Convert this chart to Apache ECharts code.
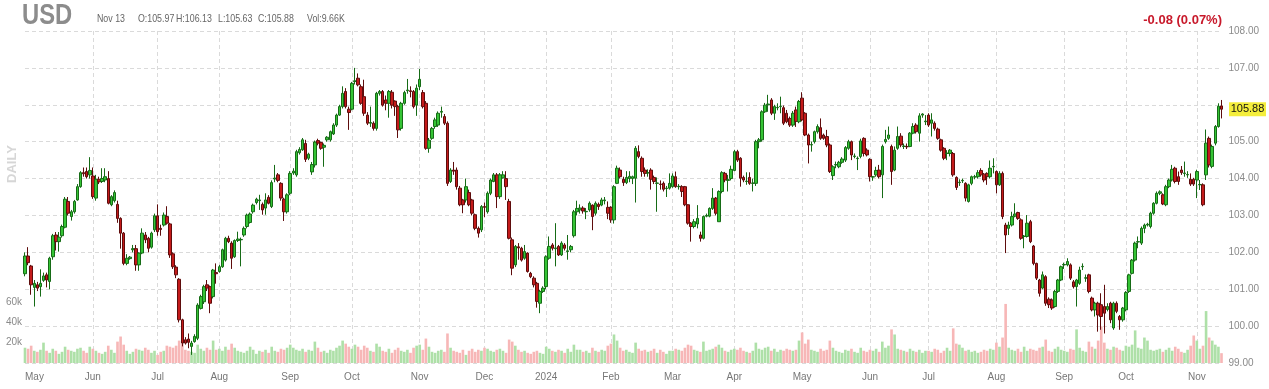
<!DOCTYPE html>
<html><head><meta charset="utf-8">
<script src="https://cdn.jsdelivr.net/npm/echarts@6/dist/echarts.min.js"></script>
<style>html,body{margin:0;padding:0;background:#fff}#c{width:1269px;height:389px}</style>
</head><body><div id="c"></div>
<script>
const symbolName = 'USD';
const periodLabel = 'DAILY';
const changeText = '-0.08 (0.07%)';
const startDate = '2023-05-01';
const endDate = '2024-11-13';
const holidays = ['2023-05-29','2023-06-19','2023-07-04','2023-09-04','2023-11-23','2023-12-25','2024-01-01','2024-01-15','2024-02-19','2024-03-29','2024-05-27','2024-06-19','2024-07-04','2024-09-02'];
const monthNames = ['Jan','Feb','Mar','Apr','May','Jun','Jul','Aug','Sep','Oct','Nov','Dec'];
const priceMin = 99, priceMax = 108, priceStep = 1;
const volumeTicks = [20, 40, 60];

const opens = [
101.42,101.90,101.63,101.05,101.12,101.07,101.24,101.39,101.21,101.88,102.47,102.29,102.45,102.68,103.38,102.97,103.10,103.42,103.78,104.16,104.19,104.10,104.07,103.47,103.98,103.92,103.96,104.00,103.29,103.40,103.30,102.92,102.52,101.70,101.83,102.07,102.10,101.66,101.98,
102.47,102.38,102.14,102.61,102.99,102.65,102.74,102.97,102.77,101.96,101.60,101.27,100.17,99.63,99.65,99.45,99.58,99.67,100.48,100.66,101.12,101.07,100.80,101.45,101.48,101.61,101.79,102.38,102.25,101.88,102.32,102.34,102.47,102.70,102.81,103.10,103.35,103.40,103.30,
103.20,103.49,103.24,103.99,104.10,103.87,103.44,103.10,103.60,104.15,104.10,104.70,104.78,104.95,104.55,104.18,104.37,105.03,104.98,104.85,105.05,105.05,105.21,105.45,105.72,105.95,106.36,105.88,105.88,106.63,106.72,106.49,106.22,105.72,105.50,105.50,105.36,106.31,106.36,
106.13,106.04,106.34,106.10,105.95,105.36,106.04,106.38,106.38,106.36,105.99,106.49,106.33,106.04,104.82,105.09,105.41,105.45,105.80,105.68,105.50,103.92,104.23,104.23,103.74,103.42,103.42,103.62,103.42,103.02,102.65,102.61,103.24,103.10,103.60,103.92,104.10,103.51,104.02,
104.00,103.38,102.34,101.66,102.15,102.11,101.84,101.98,101.43,101.30,101.16,100.62,100.94,101.07,101.84,102.20,102.10,102.16,101.93,102.20,102.02,102.07,102.45,103.10,103.15,103.20,103.10,103.15,103.28,103.06,103.30,103.28,103.40,103.22,103.22,102.88,103.87,104.23,103.98,
103.89,104.00,104.00,104.01,104.73,104.55,104.23,104.15,104.23,104.03,103.87,103.85,103.87,103.73,103.74,103.78,104.05,103.78,103.78,103.78,103.29,102.79,102.70,102.77,102.47,102.38,102.98,102.98,103.19,103.47,102.83,103.65,104.14,103.95,104.00,104.22,104.73,104.55,104.03,
103.92,104.03,103.87,103.87,105.00,105.05,105.81,106.00,106.13,105.77,105.92,105.95,105.92,105.77,105.63,105.45,105.86,105.54,106.18,105.77,105.18,104.91,105.00,105.27,105.38,105.18,105.14,104.91,104.08,104.37,104.32,104.44,104.50,104.82,105.00,104.60,104.54,104.60,105.09,
104.77,104.52,104.04,104.10,104.23,104.10,105.00,105.09,104.87,104.23,104.82,105.15,104.87,104.87,104.87,105.23,105.45,105.23,105.72,105.54,105.72,105.50,105.50,105.34,105.05,104.82,104.68,104.68,104.68,104.03,103.89,103.94,103.87,103.38,103.87,104.04,104.05,104.22,104.12,
104.14,104.05,104.32,104.19,103.83,104.14,102.74,102.65,102.74,102.98,103.08,102.88,102.43,102.43,102.83,102.17,101.70,101.25,101.03,101.34,100.73,100.71,100.53,100.94,101.25,101.66,101.66,101.66,101.20,101.07,101.16,101.61,101.30,101.39,100.76,100.44,100.62,
100.58,100.53,100.45,100.62,99.95,100.62,100.26,100.17,100.44,100.94,101.43,101.79,102.28,102.25,102.65,102.74,102.70,103.06,103.33,103.60,103.56,103.29,103.78,103.96,104.28,104.05,104.23,104.14,104.10,103.98,103.98,103.96,103.83,103.83,104.10,105.09,104.33,104.96,105.41,105.97];

const closes = [
101.90,101.72,101.12,101.16,101.03,101.16,101.36,101.25,101.84,102.45,102.29,102.41,102.70,103.44,103.06,103.10,103.38,103.78,104.16,104.13,104.05,104.22,103.51,103.98,103.91,104.00,104.05,103.33,103.51,103.62,102.92,102.52,101.70,101.84,101.87,102.10,101.66,101.98,102.52,
102.34,102.11,102.52,102.99,102.56,102.62,103.01,102.79,101.93,101.61,101.39,100.17,99.54,99.54,99.56,99.54,99.72,100.57,100.80,101.07,101.03,100.62,101.52,101.42,101.61,102.07,102.38,102.29,101.84,102.32,102.36,102.35,102.65,103.01,103.04,103.28,103.44,103.42,103.15,
103.42,103.33,103.89,104.01,103.95,103.47,103.10,103.56,104.14,104.20,104.73,104.79,105.05,104.52,104.66,104.38,104.99,104.96,104.82,104.90,105.12,105.27,105.45,105.72,105.95,106.31,105.95,105.79,106.58,106.65,106.54,106.04,105.77,105.50,105.52,105.36,106.31,106.36,105.99,
106.04,106.36,105.99,105.95,105.32,106.04,106.33,106.40,106.36,105.95,106.45,106.69,105.95,104.82,105.04,105.36,105.59,105.77,105.82,105.50,103.87,104.23,104.20,103.78,103.29,103.29,103.78,103.29,103.06,102.65,102.52,103.24,103.22,103.60,103.96,104.10,103.51,104.10,104.10,
103.78,102.38,101.57,102.16,102.12,101.79,102.02,101.48,101.34,101.12,100.67,100.94,101.03,101.88,102.16,102.11,102.12,101.93,102.25,102.11,102.04,102.16,103.10,103.19,103.20,103.12,103.11,103.33,102.97,103.33,103.24,103.42,103.42,103.06,102.88,103.78,104.28,104.05,103.89,
104.03,104.06,104.05,104.82,104.60,104.19,104.14,104.16,103.98,103.92,103.88,103.84,103.71,103.74,103.87,104.07,103.78,103.79,103.65,103.29,102.79,102.70,102.83,102.92,102.38,102.97,103.00,103.19,103.47,103.06,103.65,104.16,103.96,103.97,104.25,104.73,104.50,104.01,103.96,
103.93,103.87,103.88,105.00,105.05,105.81,105.99,106.02,105.77,105.95,105.93,105.96,105.50,105.54,105.45,105.77,105.55,106.09,105.59,105.18,104.91,104.92,105.27,105.41,105.09,105.09,104.91,104.19,104.32,104.38,104.44,104.53,104.84,105.00,104.64,104.61,104.55,105.02,104.68,
104.64,104.05,104.05,104.22,104.05,104.87,105.06,105.18,104.19,104.77,105.14,104.91,104.88,104.86,105.23,105.41,105.27,105.70,105.75,105.56,105.45,105.59,105.36,105.09,104.77,104.55,104.69,104.77,104.10,103.76,103.90,103.95,103.47,103.83,104.05,104.05,104.16,104.10,103.96,
104.05,104.28,104.33,103.83,104.14,102.97,102.47,102.74,102.97,103.04,102.92,102.38,102.44,102.79,102.29,101.70,101.30,100.89,101.39,100.62,100.58,100.49,100.94,101.25,101.61,101.67,101.75,101.30,101.07,101.25,101.52,101.62,101.31,100.94,100.44,100.62,100.30,
100.26,100.35,100.53,100.17,100.62,100.40,100.17,100.49,100.91,101.39,101.79,102.25,102.29,102.65,102.74,102.76,103.06,103.33,103.60,103.64,103.31,103.78,103.96,104.25,103.92,103.92,104.16,104.15,104.11,103.85,103.85,104.19,103.84,103.29,104.96,104.37,104.87,105.41,105.96,105.88];

const lows = [
101.35,101.65,100.85,100.53,100.95,100.80,101.20,101.05,101.00,101.80,102.05,102.02,102.40,102.65,103.00,102.86,103.05,103.40,103.75,104.05,104.00,104.00,103.45,103.40,103.85,103.88,103.90,103.30,103.25,103.35,102.80,102.10,101.65,101.65,101.80,102.00,101.50,101.50,101.95,
102.25,102.00,102.10,102.55,102.45,102.45,102.70,102.75,101.85,101.55,101.30,100.10,99.45,99.50,99.40,99.22,99.55,99.62,100.45,100.60,100.95,100.35,100.75,101.15,101.45,101.58,101.75,102.25,101.55,101.85,102.28,101.62,102.42,102.65,102.78,103.05,103.30,103.15,103.02,
103.02,103.30,103.20,103.90,103.90,103.40,102.85,103.05,103.55,104.10,104.05,104.65,104.75,104.45,104.50,104.10,104.30,104.90,104.78,104.32,105.00,105.00,105.18,105.40,105.70,105.90,105.90,105.32,105.85,106.55,106.50,106.00,105.70,105.45,105.40,105.30,105.30,106.25,105.95,
105.85,105.65,105.90,105.70,105.10,105.30,106.00,106.30,106.20,105.90,105.70,106.40,105.90,104.78,104.70,105.05,105.35,105.40,105.65,105.45,103.80,103.88,104.10,103.70,103.25,103.06,103.35,103.25,103.00,102.60,102.40,102.55,102.95,103.05,103.55,103.90,103.20,103.45,104.00,
103.42,102.35,101.38,101.60,101.80,101.75,101.80,101.45,101.30,101.05,100.50,100.35,100.90,101.00,101.80,102.05,101.62,101.90,101.90,102.05,101.80,102.00,102.40,103.00,103.05,103.05,102.90,103.10,102.60,103.00,103.15,103.25,103.30,102.90,102.80,102.78,103.85,104.00,103.80,
103.85,103.90,103.85,103.35,104.55,104.05,104.05,104.05,103.70,103.85,103.10,103.70,103.65,103.50,103.70,103.75,103.75,103.70,103.50,103.25,102.75,102.29,102.65,102.65,102.29,102.35,102.95,102.95,103.15,103.00,102.83,103.60,103.90,103.65,103.95,104.20,104.45,103.78,103.90,
103.83,103.83,103.65,103.80,104.82,105.00,105.78,105.81,105.72,105.59,105.85,105.77,105.45,105.50,105.40,105.40,105.40,105.50,105.55,105.15,104.41,104.73,104.95,105.22,105.05,105.05,104.85,104.15,103.96,104.28,104.28,104.40,104.45,104.78,104.50,104.55,104.23,104.55,104.60,
104.60,103.92,103.94,104.05,104.00,103.47,104.95,105.05,103.83,104.20,104.78,104.85,104.80,104.80,104.85,105.20,105.22,105.00,105.65,105.45,105.40,105.14,105.30,105.05,104.73,104.50,104.50,104.60,104.05,103.69,103.80,103.88,103.38,103.35,103.82,103.98,104.00,104.05,103.90,
103.83,104.00,104.14,103.60,103.80,102.90,101.98,102.47,102.70,102.95,102.88,102.34,102.11,102.40,102.25,101.65,101.25,100.80,101.00,100.55,100.49,100.44,100.50,100.90,101.22,101.55,101.62,101.25,101.02,100.53,101.12,101.52,101.20,100.89,100.40,100.26,99.85,
99.90,99.80,100.40,100.08,99.90,100.35,99.90,100.12,100.40,100.90,101.40,101.75,102.11,102.20,102.52,102.70,102.65,103.02,103.30,103.55,103.28,103.25,103.74,103.92,103.87,103.83,104.10,104.05,104.02,103.80,103.80,103.47,103.69,103.25,103.96,104.30,104.28,104.90,105.38,105.63];

const highs = [
102.00,102.14,101.66,101.25,101.20,101.54,101.45,101.45,101.88,102.50,102.55,102.55,102.75,103.50,103.50,103.15,103.42,103.85,104.20,104.30,104.30,104.58,104.30,104.10,104.05,104.28,104.28,104.20,103.55,103.68,103.40,102.95,102.55,101.95,101.90,102.20,102.20,102.00,102.65,
102.55,102.42,102.56,103.05,103.30,102.75,103.08,103.25,102.80,102.00,101.65,101.30,100.20,99.70,99.80,99.60,99.78,100.62,100.85,101.12,101.25,101.10,101.55,101.70,101.66,102.10,102.42,102.45,102.30,102.35,102.56,102.40,102.70,103.05,103.08,103.32,103.48,103.56,103.35,
103.60,103.55,103.95,104.37,104.15,103.90,103.48,103.60,104.20,104.28,104.78,104.85,105.10,105.05,104.70,104.45,105.03,105.08,105.00,104.95,105.15,105.30,105.50,105.76,106.00,106.50,106.45,105.95,106.62,107.00,106.85,106.55,106.68,105.80,105.95,105.55,106.35,106.40,106.40,
106.25,106.40,106.40,106.12,106.00,106.08,106.38,106.70,106.50,106.40,106.55,106.97,106.40,106.10,105.10,105.40,105.65,105.82,105.95,105.75,105.55,104.28,104.45,104.30,103.80,103.45,104.00,103.70,103.45,103.05,102.70,103.28,103.35,103.65,104.00,104.15,104.15,104.15,104.20,
104.20,103.45,102.40,102.20,102.25,102.15,102.20,102.00,101.47,101.35,101.20,100.98,101.08,101.92,102.43,102.25,102.79,102.20,102.30,102.25,102.47,102.20,103.15,103.40,103.30,103.25,103.20,103.38,103.30,103.38,103.35,103.48,103.50,103.38,103.25,103.82,104.35,104.30,104.05,
104.20,104.20,104.08,104.88,104.90,104.60,104.30,104.25,104.28,104.08,104.03,103.95,103.92,103.80,104.14,104.14,104.19,103.85,103.82,103.80,103.30,102.82,102.90,103.28,102.56,103.00,103.05,103.22,103.74,103.50,103.68,104.20,104.18,104.10,104.35,104.78,104.78,104.58,104.08,
104.17,104.17,104.00,105.05,105.10,105.85,106.05,106.27,106.18,106.00,106.04,106.22,105.98,105.86,105.68,105.83,105.95,106.13,106.34,105.80,105.22,105.00,105.30,105.47,105.63,105.22,105.32,104.95,104.36,104.46,104.48,104.58,104.88,105.05,105.03,104.68,104.60,105.08,105.12,
104.82,104.55,104.07,104.32,104.37,104.92,105.32,105.41,104.92,104.87,105.41,105.23,104.95,104.95,105.26,105.50,105.50,105.77,105.77,105.72,105.77,105.77,105.55,105.38,105.08,104.85,104.77,104.80,104.72,104.06,103.98,104.00,103.90,103.86,104.08,104.10,104.23,104.28,104.15,
104.17,104.49,104.55,104.22,104.20,104.19,102.80,102.83,103.10,103.33,103.10,102.92,102.47,103.01,102.88,102.20,101.72,101.28,101.48,101.38,100.78,100.75,100.98,101.28,101.64,101.72,101.84,101.70,101.25,101.28,101.61,101.70,101.40,101.42,100.80,100.66,100.66,
100.89,101.12,100.62,100.66,100.66,100.67,100.30,100.52,100.95,101.42,101.82,102.29,102.43,102.70,102.78,102.80,103.10,103.36,103.65,103.68,103.60,103.83,104.00,104.37,104.32,104.19,104.34,104.46,104.20,104.14,104.02,104.24,103.96,103.87,105.33,105.14,104.92,105.45,106.04,106.13];

const volumes = [
15,14,17,12,11,13,20,12,10,14,12,9,11,16,13,12,11,14,15,12,10,16,
14,12,10,9,11,17,13,10,21,26,18,12,9,11,14,13,12,15,13,10,12,
8,11,12,17,16,15,17,22,19,13,12,11,10,18,14,12,15,13,22,13,
14,12,16,13,19,15,12,11,10,12,16,13,9,12,11,13,10,16,12,11,14,13,15,
18,15,13,12,14,11,13,12,21,15,11,12,10,13,12,15,17,22,19,16,
14,18,16,13,17,15,12,11,19,16,12,11,14,10,13,15,12,11,13,10,15,17,
18,13,24,16,11,10,12,13,11,29,15,12,11,10,13,8,12,14,11,13,12,
15,14,12,11,13,14,12,10,23,21,17,13,11,12,10,9,11,12,10,9,
16,14,12,11,13,12,10,14,11,18,13,13,11,12,10,15,12,11,13,12,17,
19,28,22,15,12,13,11,10,20,14,12,13,11,12,14,10,13,11,9,12,
12,14,13,12,15,18,17,13,12,11,21,12,13,14,16,18,15,12,11,13,
14,13,15,12,11,10,12,20,14,13,15,16,12,14,11,13,12,14,13,12,13,22,
30,19,23,13,12,11,14,12,13,22,15,12,11,10,13,12,14,11,10,15,12,11,
13,12,14,11,21,15,17,33,28,14,13,12,11,14,12,11,13,10,12,
12,11,14,13,10,12,15,12,34,19,18,15,12,13,11,12,10,11,13,12,14,13,
20,16,25,58,15,13,12,14,11,16,12,14,13,12,15,16,23,12,11,14,16,13,
12,11,14,13,33,15,12,11,21,16,14,22,36,20,14,13,16,15,13,12,
17,16,18,32,15,14,25,22,13,12,13,14,11,13,15,12,16,14,11,10,13,17,27,
22,14,17,51,25,22,18,16,9.66];

// trading-day calendar
function buildDates() {
  const out = [];
  const hs = new Set(holidays);
  const d = new Date(startDate + 'T00:00:00Z');
  const end = new Date(endDate + 'T00:00:00Z');
  while (d <= end) {
    const wd = d.getUTCDay();
    const s = d.toISOString().slice(0, 10);
    if (wd !== 0 && wd !== 6 && !hs.has(s)) out.push(s);
    d.setUTCDate(d.getUTCDate() + 1);
  }
  return out;
}
const dates = buildDates();
const isMonthStart = dates.map((s, i) => i === 0 || s.slice(0, 7) !== dates[i - 1].slice(0, 7));
function monthLabel(s) {
  const m = +s.slice(5, 7);
  return m === 1 ? s.slice(0, 4) : monthNames[m - 1];
}

const candleData = dates.map((_, i) => [opens[i], closes[i], lows[i], highs[i]]);
const volData = dates.map((_, i) => ({
  value: volumes[i],
  itemStyle: { color: closes[i] >= opens[i] ? '#aee0a8' : '#f7b7b7' }
}));

const n = dates.length - 1;
const lastClose = closes[n];
const lastDate = dates[n];
const hdrDate = monthNames[+lastDate.slice(5, 7) - 1] + ' ' + (+lastDate.slice(8, 10));
const hdrParts = [
  { t: hdrDate, x: 97 },
  { t: 'O:' + opens[n].toFixed(2), x: 138 },
  { t: 'H:' + highs[n].toFixed(2), x: 176 },
  { t: 'L:' + lows[n].toFixed(2), x: 218 },
  { t: 'C:' + closes[n].toFixed(2), x: 258 },
  { t: 'Vol:' + volumes[n].toFixed(2) + 'K', x: 307 }
];

const G_LEFT = 25, G_RIGHT = 47.5, G_TOP = 31, G_BOTTOM = 26;
const dash = [4, 3];
const sans = '"Liberation Sans",Arial,sans-serif';

const chart = echarts.init(document.getElementById('c'), null, { renderer: 'canvas' });
chart.setOption({
  backgroundColor: '#ffffff',
  animation: false,
  grid: [
    { left: G_LEFT, right: G_RIGHT, top: G_TOP, bottom: G_BOTTOM },
    { left: G_LEFT, right: G_RIGHT, top: G_TOP, bottom: G_BOTTOM }
  ],
  xAxis: [
    {
      type: 'category', data: dates, gridIndex: 0, boundaryGap: false,
      axisLine: { show: false }, axisTick: { show: false },
      axisLabel: {
        interval: (i) => isMonthStart[i],
        formatter: (v) => monthLabel(v),
        color: '#777', fontSize: 10, margin: 9, fontFamily: sans,
        alignMinLabel: 'left'
      },
      splitLine: { show: true, interval: (i) => isMonthStart[i] && i > 0, lineStyle: { color: '#dadada', type: dash, width: 1 } }
    },
    { type: 'category', data: dates, gridIndex: 1, boundaryGap: false, show: false }
  ],
  yAxis: [
    {
      type: 'value', gridIndex: 0, position: 'right', min: priceMin, max: priceMax, interval: priceStep,
      axisLine: { show: false }, axisTick: { show: false },
      axisLabel: {
        // the tick label under the last-price tag is covered by it
        formatter: (v) => Math.abs(v - lastClose) < 0.4 ? '' : v.toFixed(2),
        color: '#8a8a8a', fontSize: 10, margin: 7, fontFamily: sans
      },
      splitLine: { show: true, lineStyle: { color: '#dadada', type: dash, width: 1 } }
    },
    {
      type: 'value', gridIndex: 1, position: 'left', min: 0, max: 326, interval: 20,
      axisLine: { show: false }, axisTick: { show: false }, splitLine: { show: false },
      axisLabel: {
        formatter: (v) => volumeTicks.indexOf(v) >= 0 ? v + 'k' : '',
        color: '#8a8a8a', fontSize: 10, margin: 3, fontFamily: sans
      }
    }
  ],
  series: [
    { type: 'bar', xAxisIndex: 1, yAxisIndex: 1, data: volData, barWidth: '85%', silent: true },
    {
      type: 'candlestick', xAxisIndex: 0, yAxisIndex: 0, data: candleData,
      barWidth: 3, clip: false,
      itemStyle: {
        color: '#35c435', color0: '#c41a1a',
        borderColor: '#166b16', borderColor0: '#5e0c0c', borderWidth: 1
      }
    }
  ],
  graphic: [
    { id: 'sym', type: 'text', x: 22, y: 30, scaleX: 0.82, style: { text: symbolName, fill: '#8c8c8c', font: 'bold 29px ' + sans, textAlign: 'left', textVerticalAlign: 'bottom' } },
    ...hdrParts.map((p, k) => ({ id: 'h' + k, type: 'text', x: p.x, y: 25, scaleX: 0.84, style: { text: p.t, fill: '#666', font: '10.5px ' + sans, textAlign: 'left', textVerticalAlign: 'bottom' } })),
    { id: 'chg', type: 'text', x: 1222, y: 27, style: { text: changeText, fill: '#c8192b', font: 'bold 13px ' + sans, textAlign: 'right', textVerticalAlign: 'bottom' } },
    { id: 'per', type: 'text', x: 12, y: 164, rotation: Math.PI / 2, style: { text: periodLabel, fill: '#d6d6d6', font: 'bold 13px ' + sans, textAlign: 'center', textVerticalAlign: 'middle' } }
  ]
});

// last-price tag placed through the price axis scale
const tagY = chart.convertToPixel({ yAxisIndex: 0 }, lastClose);
chart.setOption({
  graphic: [
    { id: 'tagBox', type: 'rect', z: 100, shape: { x: 1229, y: tagY - 7, width: 37, height: 14 }, style: { fill: '#f4ee3c' } },
    { id: 'tagTxt', type: 'text', z: 101, x: 1247.5, y: tagY, style: { text: lastClose.toFixed(2), fill: '#111', font: '11px ' + sans, textAlign: 'center', textVerticalAlign: 'middle' } }
  ]
});
</script>
</body></html>
